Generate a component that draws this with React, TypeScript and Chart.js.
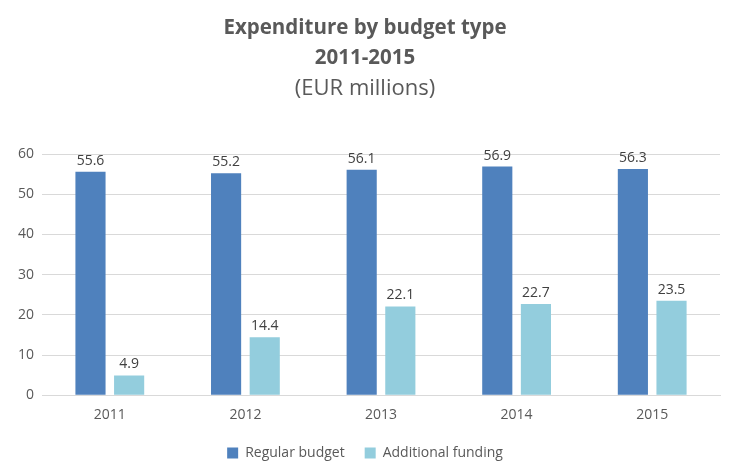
import React, { useEffect, useRef } from "react";
import { Chart, registerables } from "chart.js";

Chart.register(...registerables);

const categories = ["2011", "2012", "2013", "2014", "2015"];
const regularBudget = [55.6, 55.2, 56.1, 56.9, 56.3];
const additionalFunding = [4.9, 14.4, 22.1, 22.7, 23.5];
const seriesNames = ["Regular budget", "Additional funding"];
const titleLines = ["Expenditure by budget type", "2011-2015"];
const subtitleText = "(EUR millions)";

const FONT = "'Open Sans', 'Noto Sans', sans-serif";

const labelPlugin = {
  id: "barLabels",
  afterDatasetsDraw(chart: any) {
    const ctx = chart.ctx;
    ctx.save();
    ctx.font = `14px ${FONT}`;
    ctx.fillStyle = "#404040";
    ctx.textAlign = "center";
    ctx.textBaseline = "bottom";
    chart.data.datasets.forEach((ds: any, i: number) => {
      const meta = chart.getDatasetMeta(i);
      meta.data.forEach((bar: any, j: number) => {
        ctx.fillText(ds.data[j].toFixed(1), bar.x, bar.y - 4);
      });
    });
    ctx.restore();
  },
};

export default function App() {
  const ref = useRef<HTMLCanvasElement>(null);
  useEffect(() => {
    if (!ref.current) return;
    const chart = new Chart(ref.current, {
      type: "bar",
      data: {
        labels: categories,
        datasets: [
          {
            label: seriesNames[0],
            data: regularBudget,
            backgroundColor: "#4F81BD",
            categoryPercentage: 0.57,
            barPercentage: 0.78,
          },
          {
            label: seriesNames[1],
            data: additionalFunding,
            backgroundColor: "#93CDDD",
            categoryPercentage: 0.57,
            barPercentage: 0.78,
          },
        ],
      },
      options: {
        animation: false,
        responsive: false,
        maintainAspectRatio: false,
        layout: { padding: { left: 10, right: 16, top: 0, bottom: 5 } },
        plugins: {
          title: {
            display: true,
            text: titleLines,
            color: "#595959",
            font: { family: FONT, size: 20.5, weight: "bold", lineHeight: 1.47 },
            padding: { top: 13, bottom: 0 },
          },
          subtitle: {
            display: true,
            text: subtitleText,
            color: "#595959",
            font: { family: FONT, size: 22, weight: "normal", lineHeight: 1.4 },
            padding: { top: 0, bottom: 50 },
          },
          legend: {
            position: "bottom",
            labels: {
              boxWidth: 11,
              boxHeight: 11,
              color: "#595959",
              font: { family: FONT, size: 14 },
              padding: 20,
            },
          },
          tooltip: { enabled: false },
        },
        scales: {
          x: {
            grid: { display: false },
            border: { color: "#d9d9d9" },
            ticks: { color: "#595959", font: { family: FONT, size: 14 } },
          },
          y: {
            min: 0,
            max: 60,
            ticks: { stepSize: 10, color: "#595959", font: { family: FONT, size: 14 }, padding: 8 },
            grid: { color: "#d9d9d9", drawTicks: false },
            border: { display: false },
          },
        },
      },
      plugins: [labelPlugin],
    });
    return () => chart.destroy();
  }, []);
  return (
    <div style={{ position: "fixed", left: 0, top: 0, width: 736, height: 475, background: "#fff" }}>
      <canvas ref={ref} width={736} height={475} />
    </div>
  );
}
